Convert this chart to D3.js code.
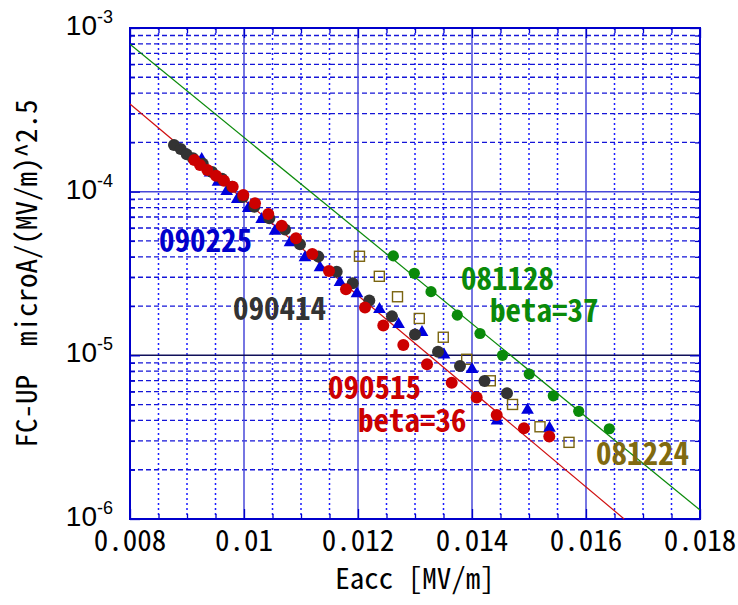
<!DOCTYPE html>
<html>
<head>
<meta charset="utf-8">
<script src="https://cdn.jsdelivr.net/npm/d3@7"></script>
<style>
  body { margin: 0; background: #fff; }
  svg { display: block; }
  .mono { font-family: "Noto Sans Mono CJK JP", "DejaVu Sans Mono", monospace; }
</style>
</head>
<body>
<script>
(function() {

  /* data: x = 1/Eacc-ish axis, y = FC-UP */
  var s090225x = [0.009258, 0.009404, 0.009544, 0.009696, 0.009882, 0.010075, 0.010311, 0.010544, 0.010807, 0.011070, 0.011333, 0.011684, 0.011982, 0.012377, 0.012711, 0.013123, 0.013509, 0.014000, 0.014439, 0.014974, 0.015360];
  var s090225y = [1.60e-4, 1.32e-4, 1.16e-4, 1.02e-4, 9.11e-5, 8.03e-5, 6.88e-5, 5.83e-5, 4.95e-5, 4.01e-5, 3.48e-5, 2.83e-5, 2.42e-5, 1.94e-5, 1.57e-5, 1.40e-5, 1.02e-5, 8.33e-6, 4.03e-6, 4.70e-6, 3.65e-6];

  var s090414x = [0.008772, 0.008889, 0.008995, 0.009105, 0.009277, 0.009439, 0.009614, 0.009789, 0.009982, 0.010181, 0.010444, 0.010719, 0.010982, 0.011304, 0.011626, 0.011907, 0.012198, 0.012596, 0.013000, 0.013404, 0.013789, 0.014219, 0.014614];
  var s090414y = [1.93e-4, 1.82e-4, 1.69e-4, 1.60e-4, 1.48e-4, 1.32e-4, 1.20e-4, 1.07e-4, 9.28e-5, 8.09e-5, 6.88e-5, 5.87e-5, 4.77e-5, 4.01e-5, 3.24e-5, 2.76e-5, 2.16e-5, 1.73e-5, 1.34e-5, 1.05e-5, 8.61e-6, 6.97e-6, 5.86e-6];

  var s090515x = [0.009128, 0.009228, 0.009356, 0.009509, 0.009649, 0.009802, 0.009988, 0.010193, 0.010426, 0.010661, 0.010912, 0.011198, 0.011491, 0.011789, 0.012123, 0.012444, 0.012795, 0.013211, 0.013644, 0.014082, 0.014433, 0.014912, 0.015356];
  var s090515y = [1.56e-4, 1.455e-4, 1.356e-4, 1.252e-4, 1.167e-4, 1.073e-4, 9.54e-5, 8.49e-5, 7.31e-5, 6.20e-5, 5.19e-5, 4.16e-5, 3.28e-5, 2.53e-5, 1.96e-5, 1.52e-5, 1.157e-5, 8.82e-6, 6.81e-6, 5.53e-6, 4.32e-6, 3.58e-6, 3.19e-6];

  var s081128x = [0.012619, 0.012988, 0.013281, 0.013742, 0.014140, 0.014535, 0.015004, 0.015426, 0.015872, 0.016409];
  var s081128y = [4.05e-5, 3.17e-5, 2.45e-5, 1.76e-5, 1.36e-5, 1.00e-5, 7.69e-6, 5.66e-6, 4.55e-6, 3.56e-6];

  var s081224x = [0.012026, 0.012374, 0.012693, 0.013075, 0.013496, 0.013907, 0.014321, 0.014711, 0.015193, 0.015702];
  var s081224y = [4.03e-5, 3.04e-5, 2.28e-5, 1.68e-5, 1.29e-5, 9.46e-6, 6.99e-6, 5.01e-6, 3.66e-6, 2.94e-6];

  // fit lines, end points
  var fit37 = [[0.008, 7.95e-4], [0.018, 1.135e-6]];
  var fit36 = [[0.008, 3.43e-4], [0.01667, 1.0e-6]];

  var xTicks = [0.008, 0.010, 0.012, 0.014, 0.016, 0.018];
  var xTickLabels = ["0.008", "0.01", "0.012", "0.014", "0.016", "0.018"];
  var yDecades = [1e-6, 1e-5, 1e-4, 1e-3];
  var yDecadeExp = ["-6", "-5", "-4", "-3"];

  var W = 738, H = 605;
  var margin = {top: 28, right: 38, bottom: 86, left: 130};
  var pw = W - margin.left - margin.right,
      ph = H - margin.top - margin.bottom;

  var x = d3.scaleLinear().domain([0.008, 0.018]).range([0, pw]);
  var y = d3.scaleLog().domain([1e-6, 1e-3]).range([ph, 0]);

  var svg = d3.select("body").append("svg")
      .attr("width", W)
      .attr("height", H);

  var g = svg.append("g")
      .attr("transform", "translate(" + margin.left + "," + margin.top + ")");

  // minor positions
  var xMinor = d3.range(0, 21).map(function(i) { return 0.008 + i * 0.0005; })
      .filter(function(v, i) { return i % 4 != 0; });
  var yMinor = [];
  yDecades.slice(0, 3).forEach(function(d) {
    for (var k = 2; k <= 9; k++) yMinor.push(d * k);
  });

  /* G R I D */
  g.append("g").attr("class", "grid")
    .selectAll("line").data(xMinor).enter().append("line")
      .attr("x1", function(d) { return x(d); }).attr("x2", function(d) { return x(d); })
      .attr("y1", 0).attr("y2", ph)
      .attr("stroke", "#1a1aff").attr("stroke-width", 1.5)
      .attr("stroke-dasharray", "2,3");

  g.append("g").attr("class", "grid")
    .selectAll("line").data(yMinor).enter().append("line")
      .attr("x1", 0).attr("x2", pw)
      .attr("y1", function(d) { return y(d); }).attr("y2", function(d) { return y(d); })
      .attr("stroke", "#1515d8").attr("stroke-width", 1.3)
      .attr("stroke-dasharray", "5,3");

  g.append("g").attr("class", "grid")
    .selectAll("line").data(xTicks).enter().append("line")
      .attr("x1", function(d) { return x(d); }).attr("x2", function(d) { return x(d); })
      .attr("y1", 0).attr("y2", ph)
      .attr("stroke", "#4848d8").attr("stroke-width", 1.5);

  g.append("g").attr("class", "grid")
    .selectAll("line").data(yDecades).enter().append("line")
      .attr("x1", 0).attr("x2", pw)
      .attr("y1", function(d) { return y(d); }).attr("y2", function(d) { return y(d); })
      .attr("stroke", function(d) { return d == 1e-5 ? "#10105a" : "#4848d8"; })
      .attr("stroke-width", 1.5);

  // inside tick marks on all four sides
  function ticks(axis, vals, size, tr) {
    var a = g.append("g").attr("transform", tr)
      .call(axis.tickValues(vals).tickSize(size).tickFormat(""));
    a.select(".domain").remove();
    a.selectAll("line").attr("stroke", "#0000cc").attr("stroke-width", 1.3);
  }
  ticks(d3.axisLeft(y), yDecades, -10, "");
  ticks(d3.axisLeft(y), yMinor, -5, "");
  ticks(d3.axisRight(y), yDecades, -10, "translate(" + pw + ",0)");
  ticks(d3.axisRight(y), yMinor, -5, "translate(" + pw + ",0)");
  ticks(d3.axisBottom(x), xTicks, -10, "translate(0," + ph + ")");
  ticks(d3.axisBottom(x), xMinor, -5, "translate(0," + ph + ")");
  ticks(d3.axisTop(x), xTicks, -10, "");
  ticks(d3.axisTop(x), xMinor, -5, "");

  // frame
  g.append("rect")
      .attr("width", pw).attr("height", ph)
      .attr("fill", "none").attr("stroke", "#0000cc").attr("stroke-width", 2);

  /* F I T   L I N E S */
  var line = d3.line()
      .x(function(d) { return x(d[0]); })
      .y(function(d) { return y(d[1]); });

  g.append("path").datum(fit37).attr("d", line)
      .attr("fill", "none").attr("stroke", "#0a8a0a").attr("stroke-width", 1.2);
  g.append("path").datum(fit36).attr("d", line)
      .attr("fill", "none").attr("stroke", "#d01010").attr("stroke-width", 1.2);

  /* P O I N T S */
  function zip(xs, ys) { return xs.map(function(v, i) { return [v, ys[i]]; }); }

  g.append("g").selectAll("rect").data(zip(s081224x, s081224y)).enter().append("rect")
      .attr("x", function(d) { return x(d[0]) - 5; })
      .attr("y", function(d) { return y(d[1]) - 5; })
      .attr("width", 10).attr("height", 10)
      .attr("fill", "none").attr("stroke", "#7a6410").attr("stroke-width", 1.4);

  g.append("g").selectAll("circle").data(zip(s081128x, s081128y)).enter().append("circle")
      .attr("cx", function(d) { return x(d[0]); })
      .attr("cy", function(d) { return y(d[1]); })
      .attr("r", 5.6).attr("fill", "#0a8a0a");

  var tri = d3.symbol().type(d3.symbolTriangle).size(70);
  g.append("g").selectAll("path").data(zip(s090225x, s090225y)).enter().append("path")
      .attr("d", tri)
      .attr("transform", function(d) { return "translate(" + x(d[0]) + "," + (y(d[1]) + 1) + ")"; })
      .attr("fill", "#0000dd");

  g.append("g").selectAll("circle").data(zip(s090414x, s090414y)).enter().append("circle")
      .attr("cx", function(d) { return x(d[0]); })
      .attr("cy", function(d) { return y(d[1]); })
      .attr("r", 6).attr("fill", "#333333");

  g.append("g").selectAll("circle").data(zip(s090515x, s090515y)).enter().append("circle")
      .attr("cx", function(d) { return x(d[0]); })
      .attr("cy", function(d) { return y(d[1]); })
      .attr("r", 6).attr("fill", "#cc0000");

  /* A X I S   L A B E L S */
  g.append("g").selectAll("text").data(xTicks).enter().append("text")
      .attr("class", "mono")
      .attr("x", function(d) { return x(d); })
      .attr("y", ph + 32)
      .attr("text-anchor", "middle")
      .style("font-size", "29px")
      .attr("fill", "#000")
      .text(function(d, i) { return xTickLabels[i]; });

  var yl = g.append("g").selectAll("text").data(yDecades).enter().append("text")
      .attr("x", -17)
      .attr("y", function(d) { return y(d) + 7; })
      .attr("text-anchor", "end")
      .style("font-family", "Liberation Sans, Arial, sans-serif")
      .attr("fill", "#000");
  yl.append("tspan").style("font-size", "28px").text("10");
  yl.append("tspan").style("font-size", "18px").attr("dy", -12)
      .text(function(d, i) { return yDecadeExp[i]; });

  svg.append("text").attr("class", "mono")
      .attr("x", margin.left + pw / 2).attr("y", 589)
      .attr("text-anchor", "middle")
      .style("font-size", "29px")
      .text("Eacc [MV/m]");

  svg.append("text").attr("class", "mono")
      .attr("transform", "translate(37," + (margin.top + ph / 2) + ")rotate(-90)")
      .attr("text-anchor", "middle")
      .style("font-size", "29px")
      .style("white-space", "pre")
      .attr("xml:space", "preserve")
      .text("FC-UP  microA/(MV/m)^2.5");

  /* S E R I E S   L A B E L S */
  var labels = [
    {t: "090225", x: 159, y: 252, c: "#0000cc"},
    {t: "090414", x: 233, y: 320, c: "#333333"},
    {t: "081128", x: 461, y: 290, c: "#0a8a0a"},
    {t: "beta=37", x: 490, y: 322, c: "#0a8a0a"},
    {t: "090515", x: 328, y: 399, c: "#cc0000"},
    {t: "beta=36", x: 358, y: 432, c: "#cc0000"},
    {t: "081224", x: 596, y: 465, c: "#806a10"}
  ];
  svg.append("g").selectAll("text").data(labels).enter().append("text")
      .attr("class", "mono")
      .attr("x", function(d) { return d.x; })
      .attr("y", function(d) { return d.y; })
      .style("font-size", "31px")
      .style("font-weight", "bold")
      .attr("fill", function(d) { return d.c; })
      .text(function(d) { return d.t; });

})();
</script>
</body>
</html>
